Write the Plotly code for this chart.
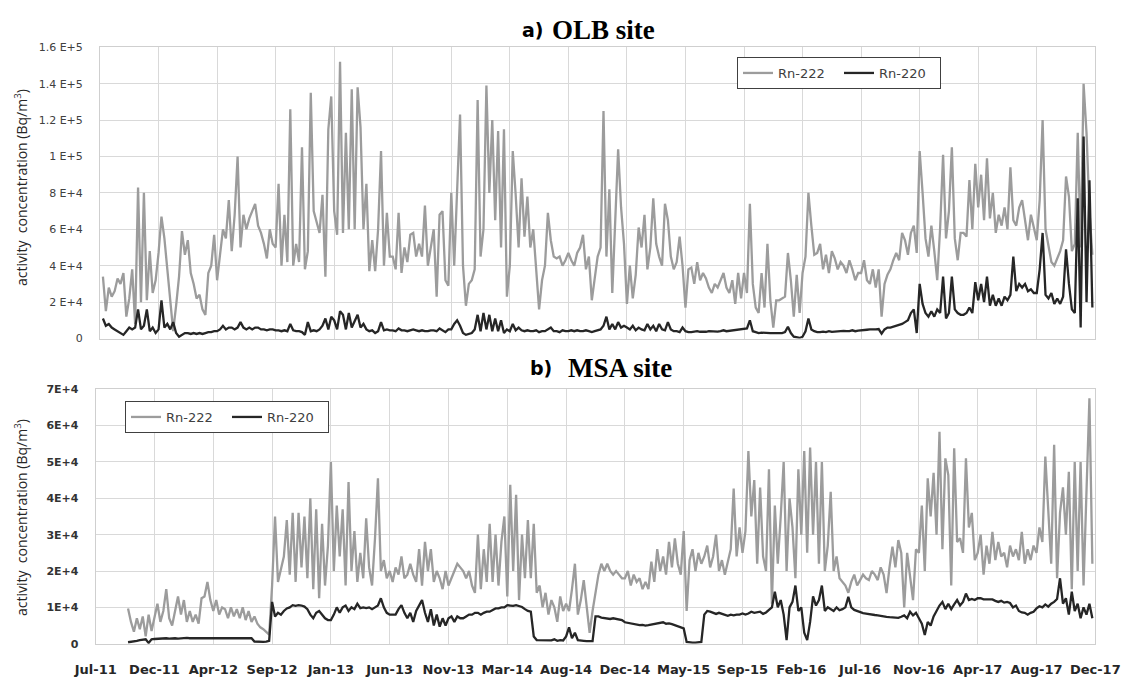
import pandas as pd
import plotly.graph_objects as go

# ---------------- data (kBq/m3) ----------------
START = pd.Timestamp("2011-07-01")
TICK_DAYS = 138          # spacing of the date gridlines
STEP_DAYS = 6.9          # spacing of the sampled readings

tick_labels = ["Jul-11", "Dec-11", "Apr-12", "Sep-12", "Jan-13", "Jun-13", "Nov-13",
               "Mar-14", "Aug-14", "Dec-14", "May-15", "Sep-15", "Feb-16", "Jul-16",
               "Nov-16", "Apr-17", "Aug-17", "Dec-17"]

olb_rn222 = (
    [None, 34, 15, 28, 23, 26, 33, 30, 36, 12, 22, 38, 8, 83, 20, 80, 21, 48, 25, 32] +
    [47, 67, 55, 38, 20, 4, 18, 34, 59, 46, 54, 36, 30, 22, 24, 16, 13, 36, 40, 57] +
    [32, 45, 60, 55, 76, 48, 68, 100, 50, 68, 60, 66, 70, 74, 62, 58, 52, 44, 60, 52] +
    [50, 85, 40, 68, 42, 126, 40, 52, 42, 105, 38, 48, 135, 70, 64, 58, 79, 34, 115, 133] +
    [70, 57, 152, 58, 113, 60, 137, 60, 138, 116, 60, 85, 37, 54, 37, 60, 103, 40, 69, 45] +
    [45, 38, 69, 36, 50, 42, 57, 58, 45, 52, 45, 73, 40, 50, 60, 23, 68, 70, 32, 29] +
    [80, 40, 87, 123, 40, 18, 30, 32, 38, 131, 45, 60, 139, 80, 120, 65, 114, 50, 115, 23] +
    [40, 103, 79, 50, 88, 56, 78, 50, 60, 37, 16, 32, 40, 69, 54, 45, 44, 45, 40, 43] +
    [47, 43, 40, 47, 50, 57, 38, 45, 21, 33, 45, 50, 125, 45, 82, 25, 65, 104, 72, 52] +
    [19, 40, 22, 35, 61, 50, 68, 38, 50, 77, 52, 45, 40, 74, 65, 45, 38, 42, 56, 40] +
    [17, 38, 39, 30, 42, 32, 36, 33, 28, 25, 30, 28, 32, 36, 28, 25, 32, 19, 36, 22] +
    [36, 25, 74, 30, 17, 14, 36, 17, 52, 21, 6, 21, 21, 22, 23, 47, 32, 12, 35, 14] +
    [36, 45, 80, 62, 46, 47, 52, 38, 46, 36, 48, 44, 38, 42, 40, 36, 43, 38, 32, 36] +
    [36, 43, 32, 30, 38, 28, 38, 12, 30, 35, 38, 43, 47, 43, 58, 54, 46, 58, 62, 47] +
    [103, 80, 55, 45, 62, 48, 32, 61, 101, 55, 70, 105, 55, 43, 58, 58, 56, 87, 60, 96] +
    [72, 90, 65, 99, 66, 80, 58, 68, 62, 72, 60, 94, 65, 62, 72, 76, 64, 54, 68, 60] +
    [54, 76, 120, 60, 50, 42, 40, 44, 48, 54, 89, 78, 48, 52, 113, 50, 140, 113, 70, 46]
)

olb_rn220 = (
    [None, 11, 7, 8, 6, 5, 4, 3, 2, 4, 6, 5, 6, 16, 5, 7, 16, 4, 6, 3] +
    [5, 21, 6, 8, 5, 9, 3, 1, 2, 3, 3, 2.5, 3, 2.5, 3, 2.5, 3, 3.5, 3.5, 4] +
    [4, 5, 7, 5, 6, 6, 5, 6, 9, 6, 5, 6, 5, 6, 6, 5, 5, 4.5, 5, 5] +
    [4.5, 4.5, 4, 4.5, 4, 8, 4.5, 4, 4, 3.5, 2, 9, 4, 4.5, 4, 5, 7, 11, 5, 12] +
    [10, 5, 15, 13, 5, 14, 6, 10, 13, 6, 8, 5, 4, 4.5, 3, 4, 9, 4.5, 5, 4.5] +
    [4.5, 4, 5.5, 4.5, 4.5, 4, 4.5, 5, 4.5, 4, 4.5, 4, 4, 4.5, 4.5, 4, 5.5, 4.5, 3.5, 5] +
    [5, 8, 10, 7, 3, 2, 2.5, 3, 5, 13, 4, 14, 5, 13, 4, 11, 4, 10, 3, 5] +
    [4, 8, 4.5, 6, 4.5, 4, 4.5, 4, 4, 4.5, 3.5, 4, 4, 5, 6, 4, 4, 3.5, 4.5, 4] +
    [4, 4.5, 4, 4.5, 4, 4, 4.5, 4, 3.5, 4, 4.5, 5, 7, 12, 5, 8, 5, 9, 6, 7] +
    [6, 5, 7, 4.5, 6, 5, 4.5, 8, 5, 7, 4, 8, 5, 4.5, 9, 5, 4, 4, 3.5, 6] +
    [4, 3.5, 3.5, 3.7, 4, 3.7, 3.5, 3.7, 4, 3.8, 3.6, 3.8, 4, 4.5, 4, 4.2, 4.5, 4.3, 4.8, 5] +
    [5, 5.5, 10, 4, 3.5, 3, 3.2, 3, 2.8, 3, 3, 2.8, 3, 3, 3.5, 6.5, 3, 1, 0.5, 0.3] +
    [1, 4, 11, 5, 4, 3.5, 3.5, 3.8, 3.5, 4, 3.6, 3.8, 4, 3.8, 4.2, 4, 4, 4.5, 4, 4.3] +
    [4.6, 4.6, 4.8, 5, 4.8, 5, 5.2, 2.7, 5, 6, 6, 6.5, 7, 7.5, 8, 9, 10, 14, 16, 3] +
    [30, 19, 14, 12, 15, 12, 16, 14, 34, 11, 14, 34, 16, 14, 13, 13, 14, 17, 14, 31] +
    [21, 30, 20, 34, 18, 24, 18, 22, 18, 23, 21, 24, 45, 26, 30, 28, 30, 26, 27, 25] +
    [25, 38, 58, 24, 22, 25, 19, 22, 19, 23, 49, 30, 16, 14, 77, 6, 111, 20, 87, 17]
)

msa_rn222 = (
    [None] * 11 + [9.7, 6, 3.3, 7, 4, 7.5, 2, 8, 3.5] +
    [7, 11, 6, 9, 15, 7, 5, 9, 13, 8, 12, 6, 9, 6, 8, 5.5, 12.5, 13, 17, 12] +
    [9, 12, 8, 10, 9.5, 7, 10, 7.5, 9.5, 7, 10, 6.5, 9, 6, 7.5, 5.5, 4.5, 4, 3.3, 2.5] +
    [16, 35, 17, 21, 24, 34, 19, 36, 17, 36, 21, 35, 18, 40, 15, 37, 12.5, 33, 16, 27] +
    [50, 20, 38, 24, 37, 16, 44.5, 20, 31, 17, 25, 18, 34.5, 21, 16, 29, 45.5, 20, 23, 18] +
    [20, 17, 21, 19, 24, 18, 19, 22, 19, 17, 26, 16, 28, 20, 26, 17, 20, 18, 15, 20] +
    [16, 18, 20, 22, 21, 20, 18, 20, 16, 14, 30, 15, 26, 17, 33, 17, 30, 16, 28, 35] +
    [13, 43.7, 20, 41, 12, 30, 18, 34, 18, 33, 14, 16, 10, 14, 8, 12, 10, 6, 13, 9] +
    [11, 9, 15, 22, 8, 12, 17.5, 11, 3, 9, 14, 19, 22, 20, 22, 20, 19, 20, 19, 18] +
    [18, 20, 16, 19, 17, 18, 15, 17, 15, 22.6, 17, 26, 20, 24, 19, 28, 21, 29, 22, 19] +
    [31, 9, 23, 26, 20, 25, 22, 24, 27, 21, 24, 30, 20, 23, 19, 23, 26, 42.7, 24, 32] +
    [25, 31, 53, 35, 45, 22, 43, 24, 20, 48, 11, 38, 22, 35, 50, 20, 40, 32, 18, 48] +
    [30, 53, 25, 54, 30, 50, 22, 50, 20, 27, 41.8, 20, 24, 18, 17, 16, 14, 17, 19, 16] +
    [17.5, 19, 18, 17.5, 20, 19, 17.5, 21, 19, 13.9, 21, 26.7, 21, 28.5, 25, 10, 25, 19, 12, 26] +
    [25, 38, 20, 45.5, 35, 47, 30, 58.3, 26, 51, 46.4, 16, 53.8, 28, 29, 25, 51, 32, 36, 23] +
    [25, 30, 19, 27, 22, 30.8, 23, 28, 24, 25, 21, 27, 24, 26, 23, 30.8, 22, 26, 23, 27] +
    [25, 32, 28, 51.5, 36, 22, 54.7, 18, 36, 43, 30, 47.3, 15, 50, 20, 50, 16, 40, 67.5, 22]
)

msa_rn220 = (
    [None] * 11 + [0.4, 0.5, 0.5, 0.8, 1.0, 1.1, 1.2, 0.2, 1.2] +
    [1.3, 1.4, 1.3, 1.4, 1.5, 1.4, 1.5, 1.5, 1.4, 1.5, 1.5, 1.6, 1.5, 1.5, 1.6, 1.5, 1.6, 1.5, 1.6, 1.6] +
    [1.6, 1.6, 1.7, 1.6, 1.6, 1.7, 1.6, 1.6, 1.6, 1.5, 1.6, 1.5, 1.5, 1.5, 0.6, 0.5, 0.5, 0.5, 0.6, 0.8] +
    [11.5, 7.5, 8.5, 8, 9, 9.7, 10, 10.6, 10.4, 10.6, 10.5, 10.2, 9.5, 8, 7, 8.5, 9, 8, 7, 6.5] +
    [6.5, 8, 10, 8.5, 10, 10.5, 9, 10, 9.5, 11, 9.8, 10, 9.8, 10, 9.5, 10, 10.5, 12.5, 10, 8.5] +
    [8, 8, 8, 9.5, 10.6, 8.5, 7, 8.5, 6, 9, 10.5, 12, 8.5, 6, 9.5, 5, 8, 4.7, 7, 5] +
    [7, 7.5, 6, 7.5, 7, 7, 7.5, 8, 8, 8.5, 8.5, 8, 8.5, 8.8, 8.8, 9.3, 9.7, 9.7, 10, 10] +
    [10.6, 10.5, 10.4, 10.6, 10.3, 10.1, 9.5, 9, 8.8, 2, 1, 1, 0.9, 0.8, 1, 0.9, 1.2, 0.8, 1, 0.9] +
    [2, 4.5, 1.5, 3, 1, 1, 0.8, 0.7, 0.6, 0.7, 7.5, 7.5, 7.2, 7, 7, 6.8, 7, 6.8, 6.6, 6.5] +
    [5.9, 5.7, 5.5, 5.3, 5.3, 5.1, 5.2, 5, 5.1, 5.3, 5.3, 5.6, 5.8, 5.9, 5.5, 5.6, 5.4, 5.1, 4.7, 4.3] +
    [4.2, 0.5, 0.3, 0.3, 0.3, 0.3, 0.5, 8, 9, 8.8, 8.4, 8.2, 8.5, 8.2, 7.8, 7.7, 8, 7.8, 8, 8] +
    [8.3, 8, 8.3, 8.8, 8.5, 8.6, 8.8, 8.2, 8.6, 9.3, 10, 14.3, 10, 12, 8, 1, 10, 11.5, 16, 9] +
    [10, 3, 1, 6, 13, 10.5, 12, 16, 9, 10, 9.5, 9, 10, 9.2, 9.5, 10, 12.9, 10, 9.3, 9] +
    [8.6, 8.4, 8.3, 8.1, 8, 7.9, 7.8, 7.6, 7.5, 7.4, 7.3, 7.2, 7.1, 7.1, 7.4, 7.8, 7, 8.8, 7.8, 8.5] +
    [7, 5.5, 2.4, 6, 5, 7.5, 9, 10.5, 11.5, 9.5, 11, 9.5, 10.8, 12, 10.5, 11.5, 13.8, 12, 12.3, 12] +
    [12.5, 12.5, 12.2, 12.2, 12, 12.2, 11.8, 11.5, 11.8, 11.3, 11.5, 11.2, 10, 10.5, 9, 8.6, 8.5, 8, 8.5, 8.8] +
    [9.7, 10.3, 10, 10.8, 10.2, 11, 11.5, 12.3, 18, 11, 12.5, 8, 14.3, 9, 11, 7, 10, 8, 11, 7]
)

olb_yticks = [0, 20000, 40000, 60000, 80000, 100000, 120000, 140000, 160000]
olb_ylabels = ["0", "2 E+4", "4 E+4", "6 E+4", "8 E+4", "1 E+5", "1.2 E+5", "1.4 E+5", "1.6 E+5"]
msa_yticks = [0, 10000, 20000, 30000, 40000, 50000, 60000, 70000]
msa_ylabels = ["0", "1E+4", "2E+4", "3E+4", "4E+4", "5E+4", "6E+4", "7E+4"]

# ---------------- helpers ----------------
def dates_for(values):
    return [START + pd.Timedelta(days=STEP_DAYS * i) for i in range(len(values))]

def bq(values):
    return [None if v is None else v * 1000 for v in values]

tick_dates = [START + pd.Timedelta(days=TICK_DAYS * k) for k in range(len(tick_labels))]
x_range = [tick_dates[0], tick_dates[-1]]

W, H = 1123, 677
GRAY = "#9c9c9c"
BLACK = "#262626"
GRID = "#d9d9d9"
LW = 2.3

fig = go.Figure()
fig.add_trace(go.Scatter(x=dates_for(olb_rn222), y=bq(olb_rn222), name="Rn-222", mode="lines",
                         line=dict(color=GRAY, width=LW), xaxis="x", yaxis="y", legend="legend"))
fig.add_trace(go.Scatter(x=dates_for(olb_rn220), y=bq(olb_rn220), name="Rn-220", mode="lines",
                         line=dict(color=BLACK, width=LW), xaxis="x", yaxis="y", legend="legend"))
fig.add_trace(go.Scatter(x=dates_for(msa_rn222), y=bq(msa_rn222), name="Rn-222", mode="lines",
                         line=dict(color=GRAY, width=LW), xaxis="x2", yaxis="y2", legend="legend2"))
fig.add_trace(go.Scatter(x=dates_for(msa_rn220), y=bq(msa_rn220), name="Rn-220", mode="lines",
                         line=dict(color=BLACK, width=LW), xaxis="x2", yaxis="y2", legend="legend2"))

axis_common = dict(showgrid=True, gridcolor=GRID, gridwidth=1, zeroline=False, automargin=False,
                   showline=True, linecolor="#cfcfcf", linewidth=1, mirror=True)

legend_common = dict(orientation="h", xanchor="left", yanchor="top", bgcolor="white",
                     bordercolor="#404040", borderwidth=1,
                     font=dict(family="DejaVu Sans", size=13, color="#404040"),
                     itemwidth=30, entrywidth=56, tracegroupgap=0)

fig.update_layout(
    width=W, height=H, margin=dict(l=0, r=0, t=0, b=0, autoexpand=False),
    paper_bgcolor="white", plot_bgcolor="white",
    showlegend=True,
    xaxis=dict(domain=[100 / W, 1095.3 / W], anchor="y", type="date", range=x_range,
               tickvals=tick_dates, ticktext=tick_labels, showticklabels=False, ticks="",
               **axis_common),
    yaxis=dict(domain=[1 - 338.5 / H, 1 - 47.3 / H], anchor="x", range=[0, 160000],
               tickvals=olb_yticks, ticktext=olb_ylabels, ticks="", ticklabelstandoff=14,
               tickfont=dict(family="DejaVu Sans", size=11, color="#404040"), **axis_common),
    xaxis2=dict(domain=[95.7 / W, 1095.3 / W], anchor="y2", type="date", range=x_range,
                tickvals=tick_dates, ticktext=tick_labels, ticks="", ticklabelstandoff=14,
                tickfont=dict(family="DejaVu Sans", size=13, color="#262626", weight="bold"),
                **axis_common),
    yaxis2=dict(domain=[1 - 643.7 / H, 1 - 389.3 / H], anchor="x2", range=[0, 70000],
                tickvals=msa_yticks, ticktext=msa_ylabels, ticks="", ticklabelstandoff=14,
                tickfont=dict(family="DejaVu Sans", size=11, color="#333333", weight="bold"),
                **axis_common),
    legend=dict(x=737 / W, y=1 - 57 / H, **legend_common),
    legend2=dict(x=125 / W, y=1 - 401 / H, **legend_common),
)

ytitle = "activity  concentration (Bq/m<sup>3</sup>)"
title_font = dict(family="Open Sans", size=14, color="#262626")
annotations = [
    dict(text=ytitle, x=21 / W, y=1 - 188 / H, textangle=-90, font=title_font),
    dict(text=ytitle, x=21 / W, y=1 - 518 / H, textangle=-90, font=title_font),
    dict(text="a)", x=546 / W, y=1 - 30 / H, xanchor="right",
         font=dict(family="DejaVu Sans", size=19, color="black", weight="bold")),
    dict(text="OLB site", x=550 / W, y=1 - 30 / H, xanchor="left",
         font=dict(family="Liberation Serif", size=27, color="black", weight="bold")),
    dict(text="b)", x=554 / W, y=1 - 368 / H, xanchor="right",
         font=dict(family="DejaVu Sans", size=19, color="black", weight="bold")),
    dict(text="MSA site", x=566 / W, y=1 - 368 / H, xanchor="left",
         font=dict(family="Liberation Serif", size=27, color="black", weight="bold")),
]
for a in annotations:
    a.update(xref="paper", yref="paper", showarrow=False, yanchor="middle")
    a.setdefault("xanchor", "center")
fig.update_layout(annotations=annotations)

fig.write_html("out.html")
